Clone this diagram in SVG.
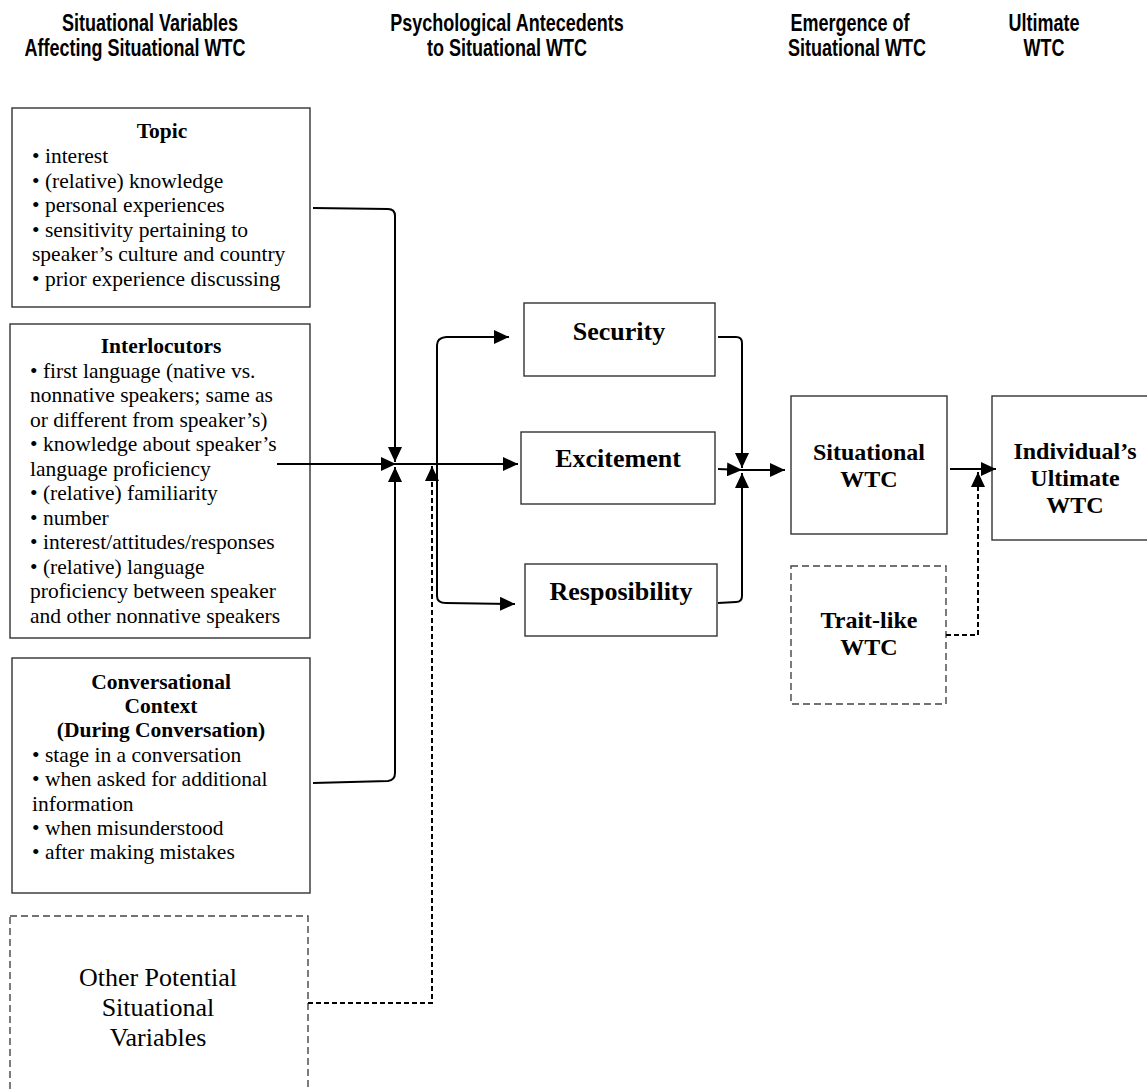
<svg xmlns="http://www.w3.org/2000/svg" width="1147" height="1090" viewBox="0 0 1147 1090">
<style>
.hd{font-family:"Liberation Sans",Arial,sans-serif;font-weight:bold;font-size:24px;fill:#000}
.bd{font-family:"Liberation Serif","Times New Roman",serif;font-size:21.5px;fill:#000}
.bt{font-family:"Liberation Serif","Times New Roman",serif;font-size:21.5px;font-weight:bold;fill:#000}
.big{font-family:"Liberation Serif","Times New Roman",serif;font-size:26px;font-weight:bold;fill:#000}
.mid{font-family:"Liberation Serif","Times New Roman",serif;font-size:24px;font-weight:bold;fill:#000}
.oth{font-family:"Liberation Serif","Times New Roman",serif;font-size:26px;fill:#000}
.box{fill:#fff;stroke:#333;stroke-width:1.4}
.dbox{fill:#fff;stroke:#444;stroke-width:1.4;stroke-dasharray:7,4}
.ln{fill:none;stroke:#000;stroke-width:2}
.dl{fill:none;stroke:#000;stroke-width:2;stroke-dasharray:5,3}
</style>
<defs>
<marker id="ah" markerUnits="userSpaceOnUse" markerWidth="16" markerHeight="14" refX="15" refY="7" orient="auto">
<path d="M0,0 L15,7 L0,14 z" fill="#000"/>
</marker>
</defs>

<g id="headers">
<text class="hd" text-anchor="middle" transform="translate(150,31) scale(0.75,1)">Situational Variables</text>
<text class="hd" text-anchor="middle" transform="translate(135,56) scale(0.75,1)">Affecting Situational WTC</text>
<text class="hd" text-anchor="middle" transform="translate(507,31) scale(0.75,1)">Psychological Antecedents</text>
<text class="hd" text-anchor="middle" transform="translate(507,56) scale(0.75,1)">to Situational WTC</text>
<text class="hd" text-anchor="middle" transform="translate(850,31) scale(0.75,1)">Emergence of</text>
<text class="hd" text-anchor="middle" transform="translate(857,56) scale(0.75,1)">Situational WTC</text>
<text class="hd" text-anchor="middle" transform="translate(1044,31) scale(0.75,1)">Ultimate</text>
<text class="hd" text-anchor="middle" transform="translate(1044,56) scale(0.75,1)">WTC</text>
</g>

<g id="topic">
<rect class="box" x="12" y="108" width="298" height="199"/>
<text class="bt" x="162" y="138" text-anchor="middle">Topic</text>
<text class="bd" x="32" y="163">• interest</text>
<text class="bd" x="32" y="187.5">• (relative) knowledge</text>
<text class="bd" x="32" y="212">• personal experiences</text>
<text class="bd" x="32" y="236.5">• sensitivity pertaining to</text>
<text class="bd" x="32" y="261">speaker’s culture and country</text>
<text class="bd" x="32" y="285.5">• prior experience discussing</text>
</g>

<g id="interlocutors">
<rect class="box" x="10" y="324" width="300" height="314"/>
<text class="bt" x="161" y="353" text-anchor="middle">Interlocutors</text>
<text class="bd" x="30" y="378">• first language (native vs.</text>
<text class="bd" x="30" y="402">nonnative speakers; same as</text>
<text class="bd" x="30" y="427">or different from speaker’s)</text>
<text class="bd" x="30" y="451">• knowledge about speaker’s</text>
<text class="bd" x="30" y="476">language proficiency</text>
<text class="bd" x="30" y="500">• (relative) familiarity</text>
<text class="bd" x="30" y="525">• number</text>
<text class="bd" x="30" y="549">• interest/attitudes/responses</text>
<text class="bd" x="30" y="574">• (relative) language</text>
<text class="bd" x="30" y="598">proficiency between speaker</text>
<text class="bd" x="30" y="623">and other nonnative speakers</text>
</g>

<g id="conversational">
<rect class="box" x="12" y="658" width="298" height="235"/>
<text class="bt" x="161" y="689" text-anchor="middle">Conversational</text>
<text class="bt" x="161" y="713" text-anchor="middle">Context</text>
<text class="bt" x="161" y="737" text-anchor="middle">(During Conversation)</text>
<text class="bd" x="32" y="762">• stage in a conversation</text>
<text class="bd" x="32" y="786">• when asked for additional</text>
<text class="bd" x="32" y="811">information</text>
<text class="bd" x="32" y="835">• when misunderstood</text>
<text class="bd" x="32" y="859">• after making mistakes</text>
</g>

<g id="other">
<rect class="dbox" x="10" y="916" width="298" height="190"/>
<text class="oth" x="158" y="986" text-anchor="middle">Other Potential</text>
<text class="oth" x="158" y="1016" text-anchor="middle">Situational</text>
<text class="oth" x="158" y="1046" text-anchor="middle">Variables</text>
</g>

<g id="security">
<rect class="box" x="524" y="303" width="191" height="73"/>
<text class="big" x="619" y="340" text-anchor="middle">Security</text>
</g>
<g id="excitement">
<rect class="box" x="521" y="432" width="194" height="72"/>
<text class="big" x="618" y="467" text-anchor="middle">Excitement</text>
</g>
<g id="responsibility">
<rect class="box" x="525" y="564" width="192" height="72"/>
<text class="big" x="621" y="600" text-anchor="middle">Resposibility</text>
</g>

<g id="situational">
<rect class="box" x="791" y="396" width="156" height="138"/>
<text class="mid" x="869" y="460" text-anchor="middle">Situational</text>
<text class="mid" x="869" y="487" text-anchor="middle">WTC</text>
</g>
<g id="traitlike">
<rect class="dbox" x="791" y="566" width="155" height="138"/>
<text class="mid" x="869" y="628" text-anchor="middle">Trait-like</text>
<text class="mid" x="869" y="655" text-anchor="middle">WTC</text>
</g>
<g id="ultimate">
<rect class="box" x="992" y="396" width="160" height="144"/>
<text class="mid" x="1075" y="459" text-anchor="middle">Individual’s</text>
<text class="mid" x="1075" y="486" text-anchor="middle">Ultimate</text>
<text class="mid" x="1075" y="513" text-anchor="middle">WTC</text>
</g>

<g id="connectors">
<path class="ln" d="M313,208 L388,209 Q395,209 395,216 L395,462" marker-end="url(#ah)"/>
<path class="ln" d="M277,464 L396,464" marker-end="url(#ah)"/>
<path class="ln" d="M313,783 L388,781 Q395,780 395,773 L395,467" marker-end="url(#ah)"/>
<path class="dl" d="M308,1003 L432,1003 L432,466" marker-end="url(#ah)"/>
<path class="ln" d="M394,464 L518,464" marker-end="url(#ah)"/>
<path class="ln" d="M437,464 L437,345 Q437,338 446,337 L509,337" marker-end="url(#ah)"/>
<path class="ln" d="M437,464 L437,596 Q437,603 446,603 L515,604" marker-end="url(#ah)"/>
<path class="ln" d="M718,337 L736,337 Q742,337 742,343 L742,468" marker-end="url(#ah)"/>
<path class="ln" d="M718,469 L742,470" marker-end="url(#ah)"/>
<path class="ln" d="M718,603 L736,602 Q742,602 742,596 L742,473" marker-end="url(#ah)"/>
<path class="ln" d="M742,470 L785,470" marker-end="url(#ah)"/>
<path class="ln" d="M950,469 L996,469" marker-end="url(#ah)"/>
<path class="dl" d="M946,635 L978,635 L978,472" marker-end="url(#ah)"/>
</g>
</svg>
